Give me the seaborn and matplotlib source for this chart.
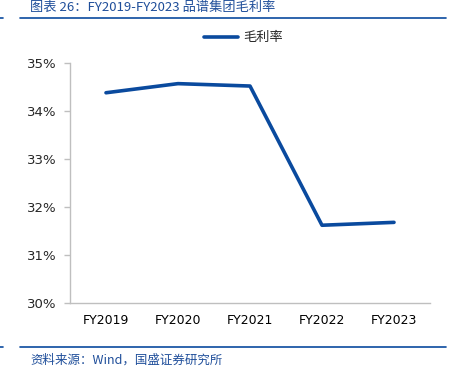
import matplotlib
matplotlib.use("Agg")
import pandas as pd
import seaborn as sns
from matplotlib import pyplot as plt
from matplotlib.ticker import FuncFormatter, FixedLocator

years = ["FY2019", "FY2020", "FY2021", "FY2022", "FY2023"]
gross_margin = [34.38, 34.57, 34.52, 31.62, 31.68]
yticks = [30, 31, 32, 33, 34, 35]

title = "图表 26：FY2019-FY2023 品谱集团毛利率"
source = "资料来源：Wind，国盛证券研究所"
series_name = "毛利率"

blue = "#0a4a9e"
text_blue = "#1f4e9a"
grey = "#bfbfbf"

sns.set_style("white")
plt.rcParams["font.family"] = ["DejaVu Sans", "Noto Sans CJK SC"]
cjk = ["Noto Sans CJK SC", "DejaVu Sans"]

df = pd.DataFrame({"year": years, "value": gross_margin, "series": series_name})

fig = plt.figure(figsize=(4.51, 3.69), dpi=100)
ax = fig.add_axes([70 / 451, 1 - 303 / 369, 360 / 451, 240 / 369])

sns.lineplot(data=df, x="year", y="value", hue="series", palette=[blue],
             linewidth=2.6, ax=ax, sort=False, legend=False)

ax.set_xlim(-0.5, len(years) - 0.5)
ax.set_ylim(30, 35)
ax.set_yticks(yticks)
ax.yaxis.set_major_formatter(FuncFormatter(lambda v, p: f"{v:.0f}%"))
ax.set_xticks(range(len(years)))
ax.set_xticklabels(years)
ax.xaxis.set_minor_locator(FixedLocator([i - 0.5 for i in range(len(years) + 1)]))
ax.tick_params(axis="x", which="major", length=0, pad=8, labelsize=9, colors="black")
ax.tick_params(axis="x", which="minor", length=5, color=grey, width=1, direction="out")
ax.tick_params(axis="y", length=4, color=grey, width=1, direction="out",
               labelsize=9.5, pad=6, left=True)
ax.set_xlabel("")
ax.set_ylabel("")
for s in ["top", "right"]:
    ax.spines[s].set_visible(False)
for s in ["left", "bottom"]:
    ax.spines[s].set_color(grey)
    ax.spines[s].set_linewidth(1)

# legend
handle = plt.Line2D([], [], color=blue, linewidth=2.6)
fig.legend([handle], [series_name], loc="center", bbox_to_anchor=(0.54, 1 - 38 / 369),
           frameon=False, handlelength=2.6, handletextpad=0.4,
           prop={"family": cjk, "size": 9.5})

# header and footer
fig.text(30 / 451, 1 - 0.5 / 369, title, color=text_blue, fontsize=9.5, style="italic",
         family=cjk, va="top", ha="left")
fig.add_artist(plt.Line2D([20 / 451, 446 / 451], [1 - 18 / 369] * 2, color=blue, linewidth=1.2))
fig.add_artist(plt.Line2D([0, 3 / 451], [1 - 18 / 369] * 2, color=blue, linewidth=1.2))
fig.add_artist(plt.Line2D([20 / 451, 446 / 451], [1 - 347 / 369] * 2, color=blue, linewidth=1.2))
fig.add_artist(plt.Line2D([0, 3 / 451], [1 - 347 / 369] * 2, color=blue, linewidth=1.2))
fig.text(30 / 451, 1 - 360 / 369, source, color=text_blue, fontsize=9, style="italic",
         family=cjk, va="center", ha="left")

fig.savefig("out.png", dpi=100)
